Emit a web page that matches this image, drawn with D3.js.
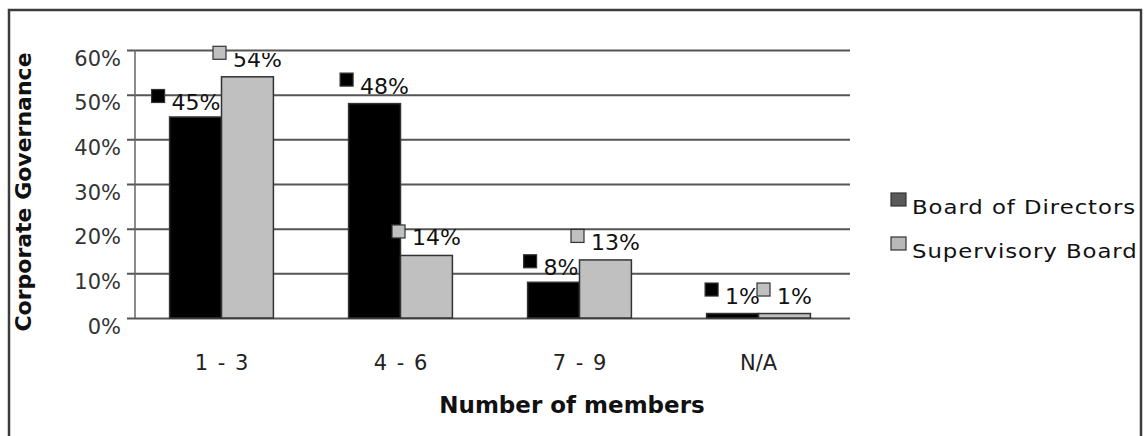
<!DOCTYPE html>
<html>
<head>
<meta charset="utf-8">
<script src="https://cdn.jsdelivr.net/npm/d3@7"></script>
<style>
    body { margin: 0; background: #fff; }
    text { font-family: 'DejaVu Sans', sans-serif; }
</style>
</head>
<body>
<svg id="chart" width="1144" height="436"></svg>
<script>
var categories = ['1 - 3', '4 - 6', '7 - 9', 'N/A'];
var seriesNames = ['Board of Directors', 'Supervisory Board'];
var boardValues = [45, 48, 8, 1];
var supervisoryValues = [54, 14, 13, 1];
var yTicks = [0, 10, 20, 30, 40, 50, 60];
var yTitle = 'Corporate Governance';
var xTitle = 'Number of members';

var barColors = ['#000000', '#c0c0c0'];
var legendColors = ['#595959', '#b8b8b8'];

var svg = d3.select('#chart');

var plot = { left: 135, right: 850, top: 50, bottom: 318 };

// outer frame
svg.append('rect')
    .attr('x', 9)
    .attr('y', 10)
    .attr('width', 1132)
    .attr('height', 440)
    .attr('fill', 'none')
    .attr('stroke', '#3c3c3c')
    .attr('stroke-width', 2.5);

var y = d3.scaleLinear()
    .domain([0, 60])
    .range([plot.bottom, plot.top]);

var x0 = d3.scaleBand()
    .domain(categories)
    .range([132, 848])
    .paddingInner(0.42)
    .paddingOuter(0.21);

var x1 = d3.scaleBand()
    .domain(seriesNames)
    .range([0, x0.bandwidth()]);

// gridlines + ticks
var yAxis = d3.axisLeft(y)
    .tickValues(yTicks)
    .tickSize(-(plot.right - plot.left))
    .tickFormat(function(d) { return d + '%'; });

var gy = svg.append('g')
    .attr('transform', 'translate(' + plot.left + ',0)')
    .call(yAxis);

gy.select('.domain').remove();
gy.selectAll('.tick line')
    .attr('x1', -8)
    .attr('stroke', '#555')
    .attr('stroke-width', 2);
gy.selectAll('.tick text')
    .attr('x', -14)
    .attr('dy', 15)
    .attr('y', 0)
    .attr('font-size', 21)
    .attr('fill', '#333')
    .attr('font-family', 'DejaVu Sans');

// vertical axis line
svg.append('line')
    .attr('x1', plot.left)
    .attr('x2', plot.left)
    .attr('y1', plot.top)
    .attr('y2', plot.bottom)
    .attr('stroke', '#666')
    .attr('stroke-width', 1.5);

var rows = categories.map(function(c, i) {
    return { cat: c, values: [boardValues[i], supervisoryValues[i]] };
});

var groups = svg.selectAll('.grp')
    .data(rows)
    .enter()
    .append('g')
        .attr('class', 'grp')
        .attr('transform', function(d) { return 'translate(' + x0(d.cat) + ',0)'; });

groups.selectAll('rect')
    .data(function(d) {
        return d.values.map(function(v, j) { return { name: seriesNames[j], value: v, idx: j }; });
    })
    .enter()
    .append('rect')
        .attr('x', function(d) { return x1(d.name); })
        .attr('y', function(d) { return y(d.value); })
        .attr('width', x1.bandwidth())
        .attr('height', function(d) { return y(0) - y(d.value); })
        .attr('fill', function(d) { return barColors[d.idx]; })
        .attr('stroke', '#333')
        .attr('stroke-width', 1.5);

// data labels (legend key + value)
svg.append('clipPath')
    .attr('id', 'labelClip')
    .append('rect')
        .attr('x', 0)
        .attr('y', y(60) + 3)
        .attr('width', 1144)
        .attr('height', 436);

var labelSize = 22;
var keySize = 13;
var keyGap = 7;

seriesNames.forEach(function(name, j) {
    rows.forEach(function(row) {
        var v = row.values[j];
        var barX = x0(row.cat) + x1(name);
        var cx = barX + x1.bandwidth() / 2;
        var base = y(v) - 10;

        var txt = svg.append('text')
            .attr('y', base)
            .attr('font-size', labelSize)
            .attr('fill', '#111')
            .attr('clip-path', 'url(#labelClip)')
            .text(v + '%');

        var tw = txt.node().getComputedTextLength();
        var blockW = keySize + keyGap + tw;
        var left = cx - blockW / 2;

        // push label off a taller neighbour bar
        if (j === 0 && row.values[1] > v) {
            var limit = x0(row.cat) + x1(seriesNames[1]) - 1;
            if (left + blockW > limit) {
                left = limit - blockW;
                base = y(v) - 7;
                txt.attr('y', base);
            }
        }

        txt.attr('x', left + keySize + keyGap);

        svg.append('rect')
            .attr('x', left)
            .attr('y', base - 14 - keySize / 2)
            .attr('width', keySize)
            .attr('height', keySize)
            .attr('fill', barColors[j])
            .attr('stroke', '#333')
            .attr('stroke-width', 1.2);
    });
});

// category labels
svg.selectAll('.catlabel')
    .data(categories)
    .enter()
    .append('text')
        .attr('class', 'catlabel')
        .attr('x', function(d) { return x0(d) + x0.bandwidth() / 2; })
        .attr('y', 370)
        .attr('text-anchor', 'middle')
        .attr('font-size', 21)
        .attr('word-spacing', 3)
        .attr('fill', '#222')
        .text(function(d) { return d; });

// axis titles
svg.append('text')
    .attr('x', 572)
    .attr('y', 413)
    .attr('text-anchor', 'middle')
    .attr('font-size', 23)
    .attr('font-weight', 'bold')
    .attr('fill', '#111')
    .text(xTitle);

svg.append('text')
    .attr('transform', 'translate(31,192) rotate(-90)')
    .attr('text-anchor', 'middle')
    .attr('font-size', 22)
    .attr('font-weight', 'bold')
    .attr('fill', '#111')
    .text(yTitle);

// legend
var legend = svg.selectAll('.leg')
    .data(seriesNames)
    .enter()
    .append('g')
        .attr('class', 'leg')
        .attr('transform', function(d, i) { return 'translate(891,' + (214 + i * 44) + ')'; });

legend.append('rect')
    .attr('x', 0)
    .attr('y', -21)
    .attr('width', 15)
    .attr('height', 13)
    .attr('fill', function(d, i) { return legendColors[i]; })
    .attr('stroke', '#333')
    .attr('stroke-width', 1.2);

legend.append('text')
    .attr('transform', 'translate(21,0) scale(1.2,1)')
    .attr('font-size', 19)
    .attr('letter-spacing', 0.8)
    .attr('fill', '#111')
    .text(function(d) { return d; });
</script>
</body>
</html>
